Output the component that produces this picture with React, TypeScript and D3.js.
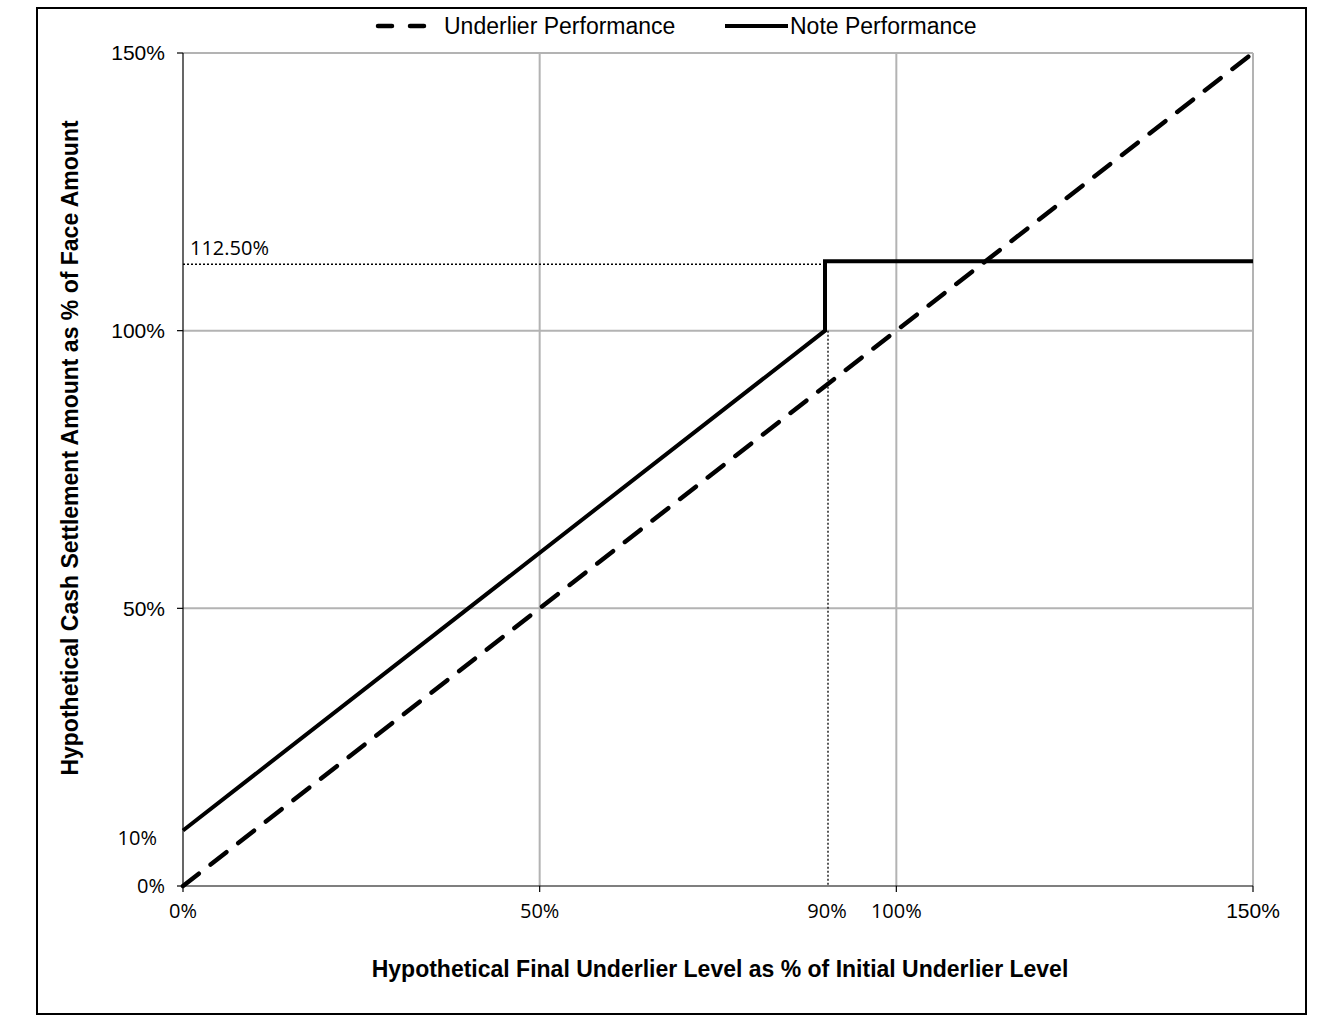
import React from 'react';
import * as d3 from 'd3';

// data
const underlierX = [0, 150];
const underlierY = [0, 150];
const noteX = [0, 90, 90, 150];
const noteY = [10, 100, 112.5, 112.5];
const xTicks = [0, 50, 90, 100, 150];
const yTicks = [0, 10, 50, 100, 150];
const xGrid = [50, 100, 150];
const yGrid = [50, 100, 150];
const capLevel = 112.5;
const triggerLevel = 90;

const W = 1324;
const H = 1021;
const arial = 'Liberation Sans, Arial, sans-serif';
const calibri = 'Open Sans, Noto Sans, sans-serif';

const App = () => {
  const x = d3.scaleLinear().domain([0, 150]).range([183, 1253]);
  const y = d3.scaleLinear().domain([0, 150]).range([886, 53]);

  const line = d3.line<[number, number]>()
    .x(d => x(d[0]))
    .y(d => y(d[1]));

  const underlier = underlierX.map((v, i) => [v, underlierY[i]] as [number, number]);
  const note = noteX.map((v, i) => [v, noteY[i]] as [number, number]);

  // labels drawn in text boxes use a different face in the original
  const xFont = (t: number) => (t === 150 ? arial : calibri);
  const yFont = (t: number) => (t >= 50 ? arial : calibri);

  return (
    <svg width={W} height={H} style={{ position: 'absolute', left: 0, top: 0 }}>
      <rect x={0} y={0} width={W} height={H} fill="#fff" />
      <rect x={37} y={8} width={1269} height={1006} fill="none" stroke="#000" strokeWidth={2} />

      {xGrid.map(t => (
        <line key={'xg' + t} x1={x(t)} x2={x(t)} y1={y(0)} y2={y(150)} stroke="#b3b3b3" strokeWidth={2} />
      ))}
      {yGrid.map(t => (
        <line key={'yg' + t} x1={x(0)} x2={x(150)} y1={y(t)} y2={y(t)} stroke="#b3b3b3" strokeWidth={2} />
      ))}

      {/* axes */}
      <line x1={x(0)} x2={x(0)} y1={y(0)} y2={y(150)} stroke="#000" strokeWidth={1.2} />
      <line x1={x(0)} x2={x(150)} y1={y(0)} y2={y(0)} stroke="#000" strokeWidth={1.2} />
      {[0, 50, 100, 150].map(t => (
        <line key={'yt' + t} x1={x(0) - 6} x2={x(0)} y1={y(t)} y2={y(t)} stroke="#000" strokeWidth={1.2} />
      ))}
      {[0, 50, 100, 150].map(t => (
        <line key={'xt' + t} x1={x(t)} x2={x(t)} y1={y(0)} y2={y(0) + 6} stroke="#000" strokeWidth={1.2} />
      ))}

      {yTicks.map(t => (
        <text key={'yl' + t} x={t === 10 ? x(0) - 26 : x(0) - 18} y={y(t) + (t === 10 ? 8 : 0)} dy="0.35em" textAnchor="end"
          fontFamily={yFont(t)} fontSize={t >= 50 ? 21 : 20} fill="#000">{t}%</text>
      ))}
      {xTicks.map(t => (
        <text key={'xl' + t} x={x(t) + (t === triggerLevel ? 2 : 0)} y={y(0) + 25} dy="0.35em" textAnchor="middle"
          fontFamily={xFont(t)} fontSize={t === 150 ? 21 : 20} fill="#000">{t}%</text>
      ))}

      {/* reference lines */}
      <line x1={x(0)} x2={x(triggerLevel)} y1={y(capLevel) + 3} y2={y(capLevel) + 3}
        stroke="#000" strokeWidth={1.3} strokeDasharray="2,2" />
      <line x1={x(triggerLevel) + 3} x2={x(triggerLevel) + 3} y1={y(100)} y2={y(0)}
        stroke="#000" strokeWidth={1.3} strokeDasharray="2,2" />
      <text x={x(0) + 7} y={y(capLevel) - 13} dy="0.35em" fontFamily={calibri} fontSize={20} fill="#000">112.50%</text>

      {/* series */}
      <path d={line(underlier) ?? ''} fill="none" stroke="#000" strokeWidth={4.5}
        strokeDasharray="20,15" strokeLinecap="round" />
      <path d={line(note) ?? ''} fill="none" stroke="#000" strokeWidth={4} />

      {/* legend */}
      <line x1={378} x2={424} y1={26} y2={26} stroke="#000" strokeWidth={4.5} strokeDasharray="14,18" strokeLinecap="round" />
      <text x={444} y={26} dy="0.35em" fontFamily={arial} fontSize={23} fill="#000">Underlier Performance</text>
      <line x1={725} x2={788} y1={26} y2={26} stroke="#000" strokeWidth={4} />
      <text x={790} y={26} dy="0.35em" fontFamily={arial} fontSize={23} fill="#000">Note Performance</text>

      {/* axis titles */}
      <text x={720} y={969} dy="0.35em" textAnchor="middle" fontFamily={arial} fontSize={23}
        fontWeight="bold" fill="#000">Hypothetical Final Underlier Level as % of Initial Underlier Level</text>
      <text transform="translate(70,448) rotate(-90)" dy="0.35em" textAnchor="middle" fontFamily={arial}
        fontSize={23} fontWeight="bold" fill="#000">Hypothetical Cash Settlement Amount as % of Face Amount</text>
    </svg>
  );
};

export default App;
